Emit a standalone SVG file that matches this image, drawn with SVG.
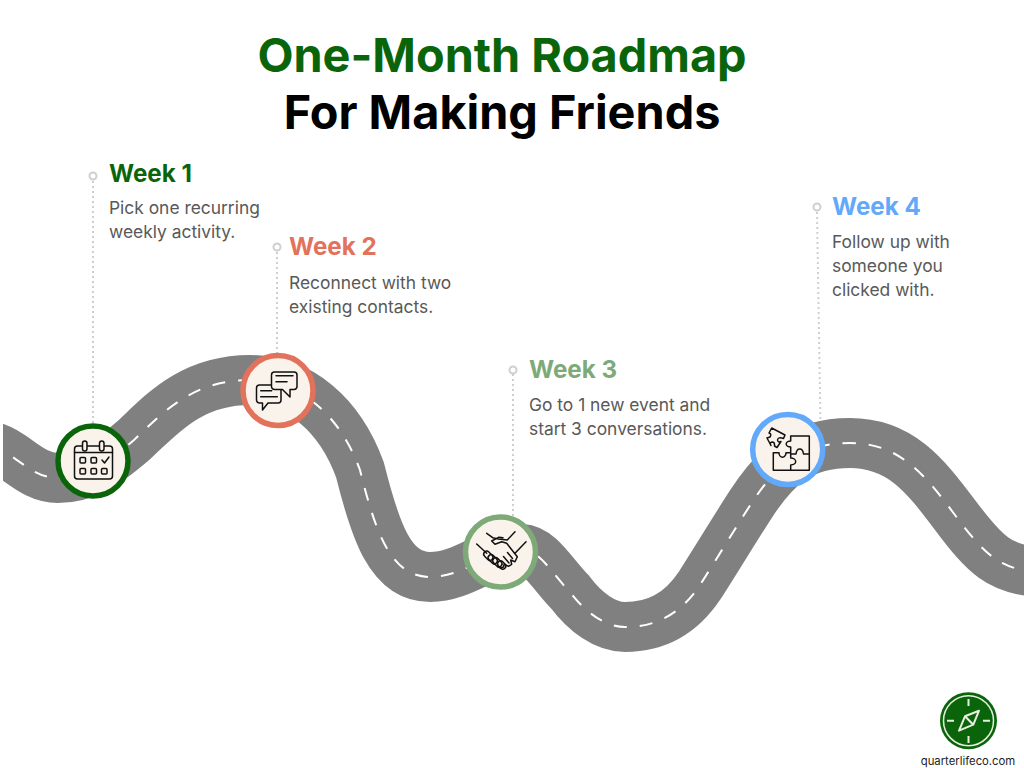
<svg xmlns="http://www.w3.org/2000/svg" width="1024" height="768" viewBox="0 0 1024 768">
<style>
text{font-family:Inter,"Liberation Sans",sans-serif}
.t{font-size:46.8px;font-weight:700;text-anchor:middle}
.h{font-size:24.2px;font-weight:700}
.b{font-size:17.4px;fill:#595959}
.lead{stroke:#cfcfcf;stroke-width:2;stroke-dasharray:2 3;fill:none}
.dot{fill:#fff;stroke:#cfcfcf;stroke-width:2}
.road{fill:none;stroke:#808080;stroke-width:50}
.mid{fill:none;stroke:#fff;stroke-width:2;stroke-dasharray:13 13}
.disc{fill:#faf3eb;stroke-width:5.500}
.i{fill:none;stroke:#111;stroke-width:1.500;stroke-linejoin:round;stroke-linecap:round}
</style>
<defs>
<clipPath id="c"><rect x="3" y="0" width="1021" height="768"/></clipPath>
<path id="rp" d="M-10 446C15 452 30 478 58 478C85 478 105 465 134 440C160 416 190 380 250 380C300 380 340 415 360 470C375 530 390 577 430 577C465 577 490 549 522 549C540 550 553 575 570 592C585 612 605 627 625 627C655 627 680 615 700 585C716 560 736 527 751 504C775 467 800 443 850 443C900 443 925 475 955 515C985 555 1000 570 1040 572"/>
</defs>
<rect width="1024" height="768" fill="#fff"/>
<text class="t" x="502" y="72" fill="#0a650a">One-Month Roadmap</text>
<text class="t" x="502" y="129" fill="#000">For Making Friends</text>
<g id="connectors">
<path class="lead" d="M93 181V430M277 252V360M513 374V520M817 212L820.500 425"/>
<circle class="dot" cx="93" cy="176" r="3.500"/><circle class="dot" cx="277" cy="247" r="3.500"/><circle class="dot" cx="513" cy="370" r="3.500"/><circle class="dot" cx="817" cy="207" r="3.500"/>
</g>
<g id="road" clip-path="url(#c)">
<use href="#rp" class="road"/>
<use href="#rp" class="mid"/>
</g>
<g id="week1">
<text class="h" x="109" y="182" fill="#0a650a">Week 1</text>
<text class="b" x="109" y="214">Pick one recurring</text>
<text class="b" x="109" y="238">weekly activity.</text>
<circle class="disc" cx="93" cy="461" r="35" stroke="#0a650a"/>
<g class="i"><rect x="74.500" y="446" width="38" height="33" rx="3"/><path d="M74.500 452.500H112.500"/><rect x="82.500" y="441" width="4.500" height="10" rx="2.250" fill="#faf3eb"/><rect x="99.500" y="441" width="4.500" height="10" rx="2.250" fill="#faf3eb"/><rect x="80" y="457.500" width="5.500" height="5.500" rx="1"/><rect x="91" y="457.500" width="5.500" height="5.500" rx="1"/><path d="M102 460l2.500 3 4.500-6"/><rect x="80" y="468.500" width="5.500" height="5.500" rx="1"/><rect x="91" y="468.500" width="5.500" height="5.500" rx="1"/><rect x="101.500" y="468.500" width="5.500" height="5.500" rx="1"/></g>
</g>
<g id="week2">
<text class="h" x="289" y="255" fill="#e2725b">Week 2</text>
<text class="b" x="289" y="289">Reconnect with two</text>
<text class="b" x="289" y="313">existing contacts.</text>
<circle class="disc" cx="278" cy="390.500" r="35" stroke="#e2725b"/>
<g class="i"><path d="M259.500 385H278a3 3 0 0 1 3 3v12a3 3 0 0 1-3 3h-10l-5.500 7v-7h-3a3 3 0 0 1-3-3v-12a3 3 0 0 1 3-3zM260.700 390.700h11M260.700 396.700h16.600" fill="#faf3eb"/><path d="M274.500 372h19.500a3 3 0 0 1 3 3v11.500a3 3 0 0 1-3 3h-4v7.500l-7.500-7.500h-8a3 3 0 0 1-3-3V375a3 3 0 0 1 3-3z" fill="#faf3eb"/><path d="M276 375.700h17M276 381.700h11"/></g>
</g>
<g id="week3">
<text class="h" x="529" y="378" fill="#7daa78">Week 3</text>
<text class="b" x="529" y="411">Go to 1 new event and</text>
<text class="b" x="529" y="435">start 3 conversations.</text>
<circle class="disc" cx="500.500" cy="552" r="35" stroke="#7daa78"/>
<g class="i"><path d="M486.700 533.300l6 4.400 5.600 1.300 9 1 7.700-8.300M476.700 544l10 9.300M526 541.700L515 553.300M503 537.700l-4-.5-7.300 3.800 3.300 3.300 6.700-2.600 5 1.600 10.600 13.400-2.300 5-4.300-1.700 1 4.300-3.300 2-4.200-2.300-.7 3-3 1-3-1.500M507.500 552.500l5 6M503.500 556.500l5.500 6.500"/><rect x="485.300" y="550.500" width="6" height="10.500" rx="3" transform="rotate(-45 488.300 555.700)"/><rect x="489.700" y="554.100" width="6" height="10.500" rx="3" transform="rotate(-45 492.700 559.300)"/><rect x="494.300" y="557.100" width="6" height="10.500" rx="3" transform="rotate(-45 497.300 562.300)"/><rect x="498.700" y="560.500" width="6" height="9" rx="3" transform="rotate(-45 501.700 565)"/></g>
</g>
<g id="week4">
<text class="h" x="832" y="215" fill="#62a9fa">Week 4</text>
<text class="b" x="832" y="248">Follow up with</text>
<text class="b" x="832" y="272">someone you</text>
<text class="b" x="832" y="296">clicked with.</text>
<circle class="disc" cx="787.700" cy="449.500" r="35" stroke="#62a9fa"/>
<g class="i"><path d="M790.700 436H809.300V470.300H773.300V452.700H779A3.500 4.500 0 0 0 786 452.700H790.700V447A4.500 3 0 0 1 790.700 441V436ZM790.700 454H796A3.800 6 0 0 1 803.500 454H809.300M790.700 454V458A5 3.500 0 0 1 790.700 465V470.300"/><path d="M771.700 428L785 435L783.500 438.500Q778 436.500 777.500 440Q778 443 781 441.500L777 447.500L774.500 446Q775 442 772 442Q769 443 771 445.500L767 438L770 437Q772 434 769 433Z"/></g>
</g>
<g id="logo">
<circle cx="968.500" cy="720.700" r="28.500" fill="#0a650a"/>
<circle cx="968.500" cy="720.700" r="25" fill="none" stroke="#e8efe0" stroke-width="1.500"/>
<path d="M968.500 699v7M968.500 736v7M947 720.700h7M983 720.700h7" stroke="#e8efe0" stroke-width="2" fill="none"/>
<path d="M979 710.700L973.300 724.700L959 730.700L965 716.300ZM965 716.300L973.300 724.700" fill="none" stroke="#e8efe0" stroke-width="2" stroke-linejoin="round"/>
<text x="968" y="765" font-size="11.300" fill="#222" text-anchor="middle">quarterlifeco.com</text>
</g>
</svg>
